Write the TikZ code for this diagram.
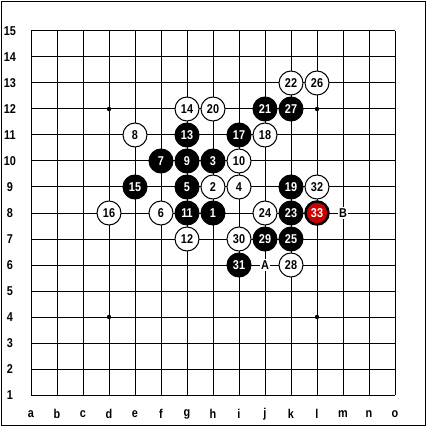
\documentclass[tikz,border=0pt]{standalone}
\usepackage{fontspec}
\setmainfont{Liberation Sans}
\newfontfamily\boardfont[FakeStretch=0.85]{Liberation Sans}
\begin{document}
\begin{tikzpicture}[x=1pt,y=-1pt,
  bf/.style={font=\boardfont\fontsize{12.8}{13}\bfseries\selectfont},
  stoneb/.style={bf,circle,draw=black,fill=black,line width=1pt,minimum size=24pt,inner sep=0pt,text=white},
  stonew/.style={bf,circle,draw=black,fill=white,line width=1pt,minimum size=24pt,inner sep=0pt,text=black},
  stoner/.style={bf,circle,draw=black,fill=red!80!black,line width=2.5pt,minimum size=23pt,inner sep=0pt,text=white},
  pointlbl/.style={bf,fill=white,inner sep=1.2pt},
  lbl/.style={bf,inner sep=0pt},
  gridline/.style={line width=1pt,black}]
\useasboundingbox (0,0) rectangle (427,427);
\fill[white] (0,0) rectangle (427,427);
\draw[line width=1pt] (1.5,1.5) rectangle (425.5,425.5);
% grid
\foreach \i in {0,...,14} {
  \draw[gridline] (31+26*\i,31) -- (31+26*\i,395);
  \draw[gridline] (31,31+26*\i) -- (395,31+26*\i);
}
% star points
\foreach \p in {(109,109),(317,109),(109,317),(317,317),(213,213)} \fill \p circle (2.2);
% labels
\foreach \r [count=\k from 0] in {15,14,...,1} \node[lbl] at (10,31+26*\k) {\r};
\foreach \c [count=\k from 0] in {a,b,c,d,e,f,g,h,i,j,k,l,m,n,o} \node[lbl] at (31+26*\k,414) {\c};
\newcommand{\B}[3]{\node[stoneb] (b#3) at (31+26*#1,{31+26*(15-#2)}) {#3};}
\newcommand{\W}[3]{\node[stonew] (w#3) at (31+26*#1,{31+26*(15-#2)}) {#3};}
\B{7}{8}{1}
\W{7}{9}{2}
\B{7}{10}{3}
\W{8}{9}{4}
\B{6}{9}{5}
\W{5}{8}{6}
\B{5}{10}{7}
\W{4}{11}{8}
\B{6}{10}{9}
\W{8}{10}{10}
\B{6}{8}{11}
\W{6}{7}{12}
\B{6}{11}{13}
\W{6}{12}{14}
\B{4}{9}{15}
\W{3}{8}{16}
\B{8}{11}{17}
\W{9}{11}{18}
\B{10}{9}{19}
\W{7}{12}{20}
\B{9}{12}{21}
\W{10}{13}{22}
\B{10}{8}{23}
\W{9}{8}{24}
\B{10}{7}{25}
\W{11}{13}{26}
\B{10}{12}{27}
\W{10}{6}{28}
\B{9}{7}{29}
\W{8}{7}{30}
\B{8}{6}{31}
\W{11}{9}{32}
\node[stoner] (b33) at (317,213) {33};
\node[pointlbl] (mA) at (265,265) {A};
\node[pointlbl] (mB) at (343,213) {B};
\end{tikzpicture}
\end{document}
